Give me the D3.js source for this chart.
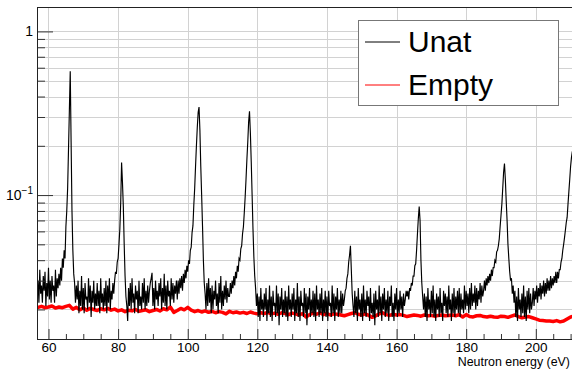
<!DOCTYPE html>
<html>
<head>
<meta charset="utf-8">
<script src="https://cdn.jsdelivr.net/npm/d3@7/dist/d3.min.js"></script>
<style>
html,body{margin:0;padding:0;background:#fff;}
svg{display:block;font-family:"Liberation Sans",Arial,Helvetica,sans-serif;}
</style>
</head>
<body>
<svg id="chart" width="572" height="369"></svg>
<script>
// ---------------- data ----------------
const xMajorTicks = [60, 80, 100, 120, 140, 160, 180, 200];
const xMinorTicks = [65, 70, 75, 85, 90, 95, 105, 110, 115, 125, 130, 135, 145, 150, 155, 165, 170, 175, 185, 190, 195, 205, 210];
const yMajorTicks = [0.1, 1];
const yMinorTicks = [0.02, 0.03, 0.04, 0.05, 0.06, 0.07, 0.08, 0.09, 0.2, 0.3, 0.4, 0.5, 0.6, 0.7, 0.8, 0.9];
const yTickLabels = [{v: 1, base: "1", exp: ""}, {v: 0.1, base: "10", exp: "\u22121"}];
const xTitle = "Neutron energy (eV)";
const seriesNames = ["Unat", "Empty"];

// Unat: bins of 0.25 eV starting at 56.5 eV
const unatStart = 56.5, unatStep = 0.25;
const unatValues = [
.033,.023,
.030,.022,.035,.025, //57
.028,.022,.032,.026, //58
.034,.021,.029,.024, //59
.036,.023,.030,.022, //60
.032,.026,.028,.022, //61
.035,.024,.031,.027, //62
.033,.028,.036,.030, //63
.041,.036,.046,.041, //64
.064,.080,.110,.190, //65
.330,.570,.210,.080, //66
.046,.033,.029,.022, //67
.028,.023,.030,.019, //68
.026,.021,.032,.020, //69
.027,.019,.029,.023, //70
.024,.020,.031,.022, //71
.028,.018,.026,.022, //72
.030,.020,.025,.021, //73
.029,.021,.026,.019, //74
.031,.022,.025,.020, //75
.027,.021,.030,.019, //76
.028,.022,.031,.020, //77
.026,.023,.029,.025, //78
.030,.034,.033,.039, //79
.041,.050,.062,.090, //80
.158,.120,.085,.050, //81
.032,.024,.021,.017, //82
.027,.021,.029,.020, //83
.031,.022,.025,.019, //84
.028,.023,.026,.019, //85
.030,.021,.024,.020, //86
.029,.022,.031,.020, //87
.026,.021,.028,.022, //88
.026,.029,.031,.0335, //89
.021,.027,.020,.030, //90
.023,.026,.021,.029, //91
.024,.031,.020,.027, //92
.022,.033,.021,.028, //93
.020,.030,.024,.026, //94
.021,.031,.023,.029, //95
.022,.028,.025,.030, //96
.023,.030,.025,.031, //97
.027,.032,.026,.033, //98
.029,.035,.031,.037, //99
.034,.040,.038,.046, //100
.048,.059,.065,.087, //101
.110,.150,.200,.260, //102
.320,.345,.250,.150, //103
.100,.065,.040,.029, //104
.025,.020,.029,.021, //105
.031,.022,.027,.019, //106
.028,.020,.026,.023, //107
.030,.021,.025,.019, //108
.029,.022,.032,.020, //109
.026,.021,.028,.023, //110
.030,.022,.027,.024, //111
.024,.029,.025,.030, //112
.027,.032,.028,.034, //113
.031,.037,.034,.041, //114
.040,.047,.049,.058, //115
.064,.078,.097,.125, //116
.165,.210,.280,.325, //117
.240,.160,.100,.062, //118
.042,.032,.027,.021, //119
.025,.018,.024,.017, //120
.027,.020,.023,.018, //121
.025,.020,.027,.017, //122
.023,.019,.028,.018, //123
.024,.017,.026,.021, //124
.022,.018,.028,.019, //125
.025,.016,.024,.020, //126
.027,.018,.023,.019, //127
.026,.018,.024,.017, //128
.028,.020,.023,.018, //129
.025,.020,.027,.017, //130
.023,.019,.029,.018, //131
.024,.017,.026,.021, //132
.022,.018,.027,.019, //133
.025,.016,.024,.020, //134
.027,.018,.023,.019, //135
.026,.018,.025,.017, //136
.028,.020,.023,.018, //137
.025,.019,.027,.017, //138
.023,.019,.026,.018, //139
.024,.017,.026,.021, //140
.022,.018,.028,.019, //141
.025,.017,.024,.020, //142
.027,.018,.023,.019, //143
.026,.019,.025,.021, //144
.023,.026,.027,.031, //145
.033,.039,.043,.049, //146
.035,.025,.021,.018, //147
.026,.019,.024,.017, //148
.027,.020,.023,.018, //149
.025,.017,.028,.019, //150
.023,.018,.026,.021, //151
.024,.017,.027,.019, //152
.022,.018,.025,.016, //153
.026,.020,.023,.018, //154
.028,.019,.024,.017, //155
.025,.020,.027,.018, //156
.023,.019,.026,.017, //157
.024,.021,.028,.018, //158
.022,.017,.025,.020, //159
.027,.018,.023,.019, //160
.026,.020,.024,.018, //161
.025,.021,.023,.026, //162
.024,.026,.023,.027, //163
.026,.029,.028,.032, //164
.032,.037,.038,.046, //165
.058,.072,.085,.070, //166
.040,.029,.024,.020, //167
.025,.018,.024,.017, //168
.027,.020,.023,.018, //169
.026,.019,.028,.018, //170
.023,.017,.025,.020, //171
.024,.018,.027,.019, //172
.022,.017,.026,.021, //173
.025,.019,.024,.018, //174
.028,.020,.023,.017, //175
.025,.019,.027,.018, //176
.024,.020,.026,.019, //177
.027,.018,.025,.020, //178
.023,.019,.028,.020, //179
.026,.021,.025,.019, //180
.027,.020,.029,.021, //181
.025,.022,.028,.020, //182
.027,.021,.026,.023, //183
.029,.022,.028,.024, //184
.026,.030,.026,.031, //185
.028,.032,.029,.033, //186
.030,.035,.032,.036, //187
.036,.040,.039,.045, //188
.046,.049,.054,.064, //189
.075,.088,.110,.138, //190
.156,.125,.092,.070, //191
.050,.041,.034,.030, //192
.031,.025,.028,.022, //193
.026,.018,.024,.017, //194
.027,.020,.023,.018, //195
.025,.019,.028,.018, //196
.024,.017,.026,.020, //197
.027,.019,.025,.020, //198
.022,.027,.021,.026, //199
.023,.028,.022,.027, //200
.024,.029,.023,.028, //201
.025,.030,.024,.029, //202
.025,.031,.026,.030, //203
.026,.032,.027,.031, //204
.028,.032,.029,.034, //205
.029,.034,.031,.035, //206
.035,.039,.041,.046, //207
.050,.055,.061,.068, //208
.073,.088,.105,.125, //209
.150,.170,.185       //210
];

// Empty: bins of 1 eV starting at 56 eV
const emptyStart = 56, emptyStep = 1;
const emptyValues = [
.0208,.0206,.0209,.0205,.0207,.0210,.0204,.0207,.0205,.0209, // 56-65
.0212,.0201,.0206,.0199,.0204,.0198,.0203,.0200,.0197,.0202, // 66-75
.0199,.0203,.0198,.0201,.0196,.0199,.0194,.0198,.0196,.0200, // 76-85
.0195,.0197,.0199,.0194,.0197,.0200,.0196,.0202,.0199,.0207, // 86-95
.0192,.0197,.0203,.0199,.0206,.0198,.0194,.0197,.0193,.0196, // 96-105
.0192,.0195,.0191,.0194,.0192,.0188,.0195,.0191,.0193,.0190, // 106-115
.0192,.0189,.0193,.0190,.0188,.0191,.0189,.0192,.0188,.0190, // 116-125
.0187,.0191,.0189,.0186,.0190,.0188,.0185,.0189,.0180,.0186, // 126-135
.0190,.0187,.0191,.0186,.0189,.0185,.0188,.0187,.0185,.0183, // 136-145
.0186,.0189,.0191,.0187,.0185,.0188,.0184,.0179,.0183,.0188, // 146-155
.0191,.0186,.0184,.0187,.0185,.0186,.0184,.0181,.0183,.0185, // 156-165
.0184,.0182,.0185,.0183,.0184,.0182,.0184,.0185,.0183,.0184, // 166-175
.0185,.0183,.0186,.0180,.0186,.0181,.0180,.0183,.0184,.0181, // 176-185
.0180,.0182,.0180,.0179,.0182,.0181,.0179,.0182,.0185,.0181, // 186-195
.0178,.0180,.0181,.0178,.0175,.0172,.0171,.0170,.0170,.0169, // 196-205
.0171,.0168,.0170,.0175,.0180,.0182                          // 206-211
];

// ---------------- drawing ----------------
const W = 572, H = 369;
const plot = {left: 37, right: 572, top: 7, bottom: 339};
const svg = d3.select("#chart");

svg.append("rect").attr("width", W).attr("height", H).attr("fill", "#fff");

const x = d3.scaleLinear().domain([56.7, 210.4]).range([plot.left, plot.right]);
const y = d3.scaleLog().domain([0.0132, 1.41]).range([plot.bottom, plot.top]);

// grid
const grid = svg.append("g").attr("stroke", "#d2d2d2").attr("stroke-width", 1);
grid.selectAll("line.vx").data(xMajorTicks).join("line")
  .attr("x1", d => Math.round(x(d)) + 0.5).attr("x2", d => Math.round(x(d)) + 0.5)
  .attr("y1", plot.top).attr("y2", plot.bottom);
grid.selectAll("line.hy").data(yMajorTicks.concat(yMinorTicks)).join("line")
  .attr("y1", d => Math.round(y(d)) + 0.5).attr("y2", d => Math.round(y(d)) + 0.5)
  .attr("x1", plot.left).attr("x2", plot.right);

// clip for data
svg.append("clipPath").attr("id", "clip").append("rect")
  .attr("x", plot.left).attr("y", plot.top)
  .attr("width", plot.right - plot.left).attr("height", plot.bottom - plot.top);

const unatData = unatValues.map((v, i) => ({e: unatStart + i * unatStep, v}));
const emptyData = emptyValues.map((v, i) => ({e: emptyStart + i * emptyStep, v}));

const line = d3.line().x(d => x(d.e)).y(d => y(d.v));

const dataG = svg.append("g").attr("clip-path", "url(#clip)");
dataG.append("path").datum(emptyData).attr("d", line)
  .attr("fill", "none").attr("stroke", "#ff0000").attr("stroke-width", 3.5)
  .attr("stroke-linejoin", "round");
dataG.append("path").datum(unatData).attr("d", line)
  .attr("fill", "none").attr("stroke", "#000").attr("stroke-width", 1.15);

// axes
const tickColor = "#333";
const xAxisMajor = d3.axisBottom(x).tickValues(xMajorTicks).tickSize(-10).tickPadding(3).tickFormat(d3.format("d"));
const xAxisMinor = d3.axisBottom(x).tickValues(xMinorTicks).tickSize(-5).tickFormat("");
const gxMin = svg.append("g").attr("transform", `translate(0,${plot.bottom})`).call(xAxisMinor);
const gx = svg.append("g").attr("transform", `translate(0,${plot.bottom})`).call(xAxisMajor);
[gx, gxMin].forEach(g => {
  g.select(".domain").remove();
  g.selectAll(".tick line").attr("stroke", tickColor);
});
gx.selectAll(".tick text").attr("font-size", 13.5).attr("fill", "#000")
  .attr("font-family", '"Liberation Sans",Arial,sans-serif');

const yAxisMajor = d3.axisLeft(y).tickValues(yMajorTicks).tickSize(-16).tickFormat("");
const yAxisMinor = d3.axisLeft(y).tickValues(yMinorTicks).tickSize(-8).tickFormat("");
[yAxisMinor, yAxisMajor].forEach(a => {
  const g = svg.append("g").attr("transform", `translate(${plot.left},0)`).call(a);
  g.select(".domain").remove();
  g.selectAll(".tick line").attr("stroke", tickColor);
});

// y tick labels (ROOT style)
const yl = svg.append("g").attr("font-size", 14).attr("fill", "#000");
yTickLabels.forEach(t => {
  const txt = yl.append("text").attr("x", 33).attr("y", y(t.v) + 5).attr("text-anchor", "end");
  txt.append("tspan").text(t.base);
  if (t.exp) txt.append("tspan").attr("dy", -6).attr("font-size", 10).text(t.exp);
});

// frame
svg.append("rect").attr("x", plot.left + 0.5).attr("y", plot.top + 0.5)
  .attr("width", plot.right - plot.left).attr("height", plot.bottom - plot.top)
  .attr("fill", "none").attr("stroke", "#222").attr("stroke-width", 1);

// x title
svg.append("text").attr("x", 570).attr("y", 366).attr("text-anchor", "end")
  .attr("font-size", 12.4).attr("fill", "#000").text(xTitle);

// legend
const lg = svg.append("g");
lg.append("rect").attr("x", 358.5).attr("y", 20.5).attr("width", 200).attr("height", 85)
  .attr("fill", "#fff").attr("stroke", "#777").attr("stroke-width", 1);
const legendColors = ["#000", "#ff0000"];
seriesNames.forEach((name, i) => {
  const cy = 42 + i * 43;
  lg.append("line").attr("x1", 365).attr("x2", 400).attr("y1", cy).attr("y2", cy)
    .attr("stroke", legendColors[i]).attr("stroke-width", 1);
  lg.append("text").attr("x", 408).attr("y", cy + 10).attr("font-size", 30)
    .attr("fill", "#000").text(name);
});
</script>
</body>
</html>
